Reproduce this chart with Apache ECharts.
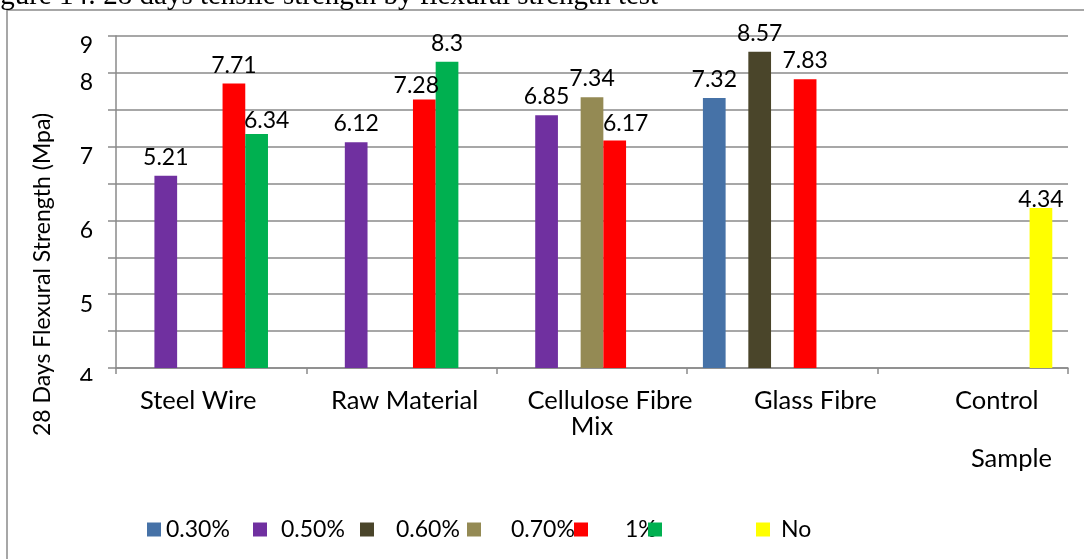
<!DOCTYPE html>
<html>
<head>
<meta charset="utf-8">
<script src="https://cdn.jsdelivr.net/npm/echarts@6/dist/echarts.min.js"></script>
<style>
  html, body { margin: 0; padding: 0; background: #fff; }
  #chart { width: 1084px; height: 559px; }
</style>
</head>
<body>
<div id="chart"></div>
<script>
// Sample groups along the x axis
const categories = ['Steel Wire', 'Raw Material', 'Cellulose Fibre\nMix', 'Glass Fibre', 'Control'];

// 28-day flexural strength (MPa) per fibre dosage
const names = ['0.30%', '0.50%', '0.60%', '0.70%', '1%', ' ', 'No'];
const dose030 = [null, null, null, 7.32, null];
const dose050 = [5.21, 6.12, 6.85, null, null];
const dose060 = [null, null, null, 8.57, null];
const dose070 = [null, null, 7.34, null, null];
const dose100 = [7.71, 7.28, 6.17, 7.83, null];
const doseAlt = [6.34, 8.3, null, null, null];
const noFibre = [null, null, null, null, 4.34];

// Tick text printed at each gridline value 0..9
const yTickText = ['4', '', '5', '', '6', '', '7', '', '8', '9'];

// ---- styling ----
const FONT = 'Lato';
const GREY = '#8a8a8a';
const colors = ['#4672a7', '#7030a0', '#4a452a', '#948a54', '#ff0000', '#00b050', '#ffff00'];
const legendLeft = [147, 253, 360, 467, 574, 648, 756];
const legendTextPad = [0, 9, 17, 25, 32, 0, 6];
const xLabelShift = [-13, 3, 18, 33, 24];
// value-label nudges [series, category, dx, dy]
const labelNudge = [[5, 0, 10, 5], [4, 1, -8, 5], [4, 2, 11, 2], [6, 4, 0, 10]];

const seriesValues = [dose030, dose050, dose060, dose070, dose100, doseAlt, noFibre];

const series = seriesValues.map((vals, s) => ({
  name: names[s],
  type: 'bar',
  barGap: '0%',
  barCategoryGap: '16.5%',
  itemStyle: { color: colors[s] },
  label: {
    show: true, position: 'top', distance: 7,
    fontFamily: FONT, fontSize: 23, color: '#000'
  },
  data: vals.map((v, c) => {
    const n = labelNudge.find(e => e[0] === s && e[1] === c);
    return n ? { value: v, label: { offset: [n[2], n[3]] } } : v;
  })
}));

const XFS = 25.5;
const labelRich = {};
xLabelShift.forEach((sh, i) => {
  labelRich['x' + i] = {
    fontFamily: FONT, fontSize: XFS, color: '#000', lineHeight: 26,
    padding: sh >= 0 ? [0, 0, 0, 2 * sh] : [0, -2 * sh, 0, 0]
  };
});
labelRich.p = { fontFamily: FONT, fontSize: XFS, color: '#000', lineHeight: 26 };

const legends = names.map((n, i) => ({
  data: [n],
  left: legendLeft[i],
  top: 518,
  icon: 'rect',
  itemWidth: 14,
  itemHeight: 14,
  selectedMode: false,
  padding: 0,
  textStyle: { fontFamily: FONT, fontSize: 23, color: '#000', padding: [0, 0, 0, legendTextPad[i]] }
}));

const chart = echarts.init(document.getElementById('chart'), null, { renderer: 'canvas' });
chart.setOption({
  animation: false,
  title: {
    text: 'Figure 14: 28 days tensile strength by flexural strength test',
    left: -24, top: -18, padding: 0,
    textStyle: { fontFamily: 'Liberation Serif', fontSize: 29, fontWeight: 'normal', color: '#000' }
  },
  legend: legends,
  grid: { left: 116, right: 16, top: 36, bottom: 191, containLabel: false },
  xAxis: {
    type: 'category',
    data: categories,
    axisLine: { lineStyle: { color: GREY, width: 1.5 } },
    axisTick: { show: true, length: 6, lineStyle: { color: GREY, width: 1.5 } },
    axisLabel: {
      margin: 20, interval: 0, rich: labelRich,
      formatter: (v, i) => {
        const lines = v.split('\n');
        return lines.map((t, k) => k === 0 ? '{x' + i + '|' + t + '}' : '{p|' + t + '}').join('\n');
      }
    }
  },
  yAxis: {
    type: 'value',
    min: 0, max: 9, interval: 1,
    name: '28 Days Flexural Strength (Mpa)',
    nameLocation: 'middle',
    nameRotate: 90,
    nameGap: 62,
    nameTextStyle: { fontFamily: FONT, fontSize: 23, color: '#000', padding: [0, 145, 0, 0] },
    axisLine: { show: true, lineStyle: { color: GREY, width: 1.5 } },
    axisTick: { show: true, length: 8, lineStyle: { color: GREY, width: 1.5 } },
    splitLine: { lineStyle: { color: GREY, width: 1.5 } },
    axisLabel: {
      margin: 23, fontFamily: FONT, fontSize: 23, color: '#000',
      verticalAlign: 'top', lineHeight: 20,
      formatter: v => yTickText[Math.round(v)]
    }
  },
  graphic: [
    { type: 'rect', z: -1, shape: { x: 7, y: 10, width: 1200, height: 700 },
      style: { fill: 'none', stroke: GREY, lineWidth: 1.5 } },
    { type: 'rect', z: 100, shape: { x: 60, y: 381, width: 45, height: 10 }, style: { fill: '#fff' } },
    { type: 'text', right: 1084 - 1052, top: 446,
      style: { text: 'Sample', fontFamily: FONT, fontSize: XFS, fill: '#000' } }
  ],
  series: series
});
</script>
</body>
</html>
